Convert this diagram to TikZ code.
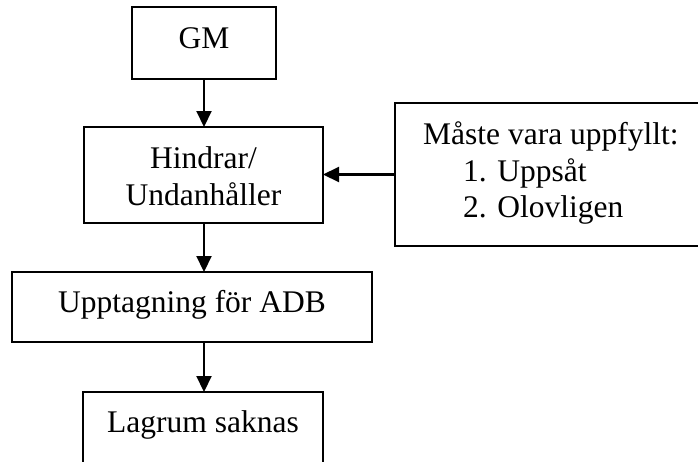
\documentclass[tikz,border=0pt]{standalone}
\usepackage{fontspec}
\setmainfont{Liberation Serif}
\usetikzlibrary{arrows.meta}
\begin{document}
\begin{tikzpicture}[x=1pt,y=-1pt,
  box/.style={draw, rectangle, line width=2.1pt, inner sep=0pt, outer sep=0pt},
  lbl/.style={anchor=base, inner sep=0pt, font=\fontsize{31.5}{36}\selectfont},
  lbll/.style={lbl, anchor=base west},
  arr/.style={line width=2.1pt, -{Triangle[length=16pt,width=15pt]}}]
\useasboundingbox (0,0) rectangle (698,461);

% boxes
\node[box, minimum width=144pt, minimum height=72pt]  (gm)   at (204,43)    {};
\node[box, minimum width=239pt, minimum height=96pt]  (hind) at (203.5,175) {};
\node[box, minimum width=310pt, minimum height=143pt] (cond) at (550,174.5) {};
\node[box, minimum width=360pt, minimum height=70pt]  (upp)  at (192,307)   {};
\node[box, minimum width=240pt, minimum height=78pt]  (lag)  at (203,431)   {};

% texts
\node[lbl] (gmt) at (204,48) {GM};
\node[lbl] (hindt1) at (203.5,168) {Hindrar/};
\node[lbl] (hindt2) at (203.5,205) {Undanhåller};
\node[lbll] (condt1) at (423,144) {Måste vara uppfyllt:};
\node[lbll] (condt2) at (463,181) {1. Uppsåt};
\node[lbll] (condt3) at (463,217) {2. Olovligen};
\node[lbl] (uppt) at (192,312) {Upptagning för ADB};
\node[lbl] (lagt) at (203,432) {Lagrum saknas};

% connectors
\draw[arr] (gm.south) -- (gm.south |- hind.north);
\draw[arr] (cond.west) -- (cond.west -| hind.east);
\draw[arr] (hind.south -| gm.south) -- (upp.north -| gm.south);
\draw[arr] (upp.south -| gm.south) -- (lag.north -| gm.south);
\end{tikzpicture}
\end{document}
